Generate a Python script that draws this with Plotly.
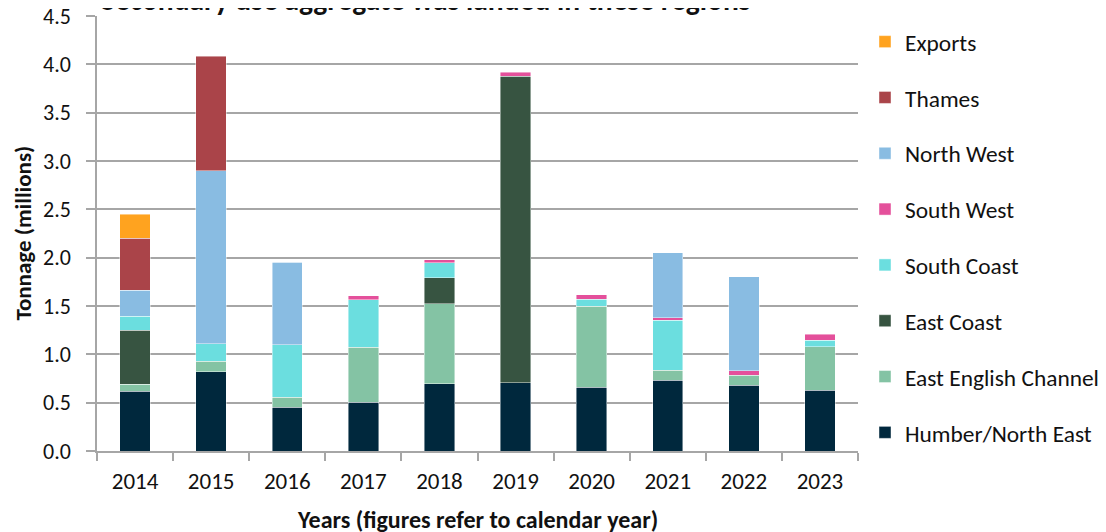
import plotly.graph_objects as go

years = ["2014", "2015", "2016", "2017", "2018", "2019", "2020", "2021", "2022", "2023"]

humber_north_east = [0.616, 0.822, 0.455, 0.502, 0.698, 0.705, 0.657, 0.733, 0.681, 0.630]
east_english_channel = [0.076, 0.104, 0.099, 0.572, 0.827, None, 0.843, 0.103, 0.103, 0.447]
east_coast = [0.558, None, None, None, 0.268, 3.172, None, None, None, None]
south_coast = [0.145, 0.182, 0.544, 0.492, 0.155, None, 0.072, 0.516, None, 0.069]
south_west = [None, None, None, 0.038, 0.031, 0.041, 0.045, 0.028, 0.045, 0.061]
north_west = [0.268, 1.791, 0.854, None, None, None, None, 0.670, 0.974, None]
thames = [0.537, 1.185, 0.008, None, None, None, None, None, None, None]
exports = [0.251, None, None, None, None, None, None, None, None, None]

series = [
    ("Humber/North East", humber_north_east, "#00283D"),
    ("East English Channel", east_english_channel, "#84C3A4"),
    ("East Coast", east_coast, "#375441"),
    ("South Coast", south_coast, "#6BDEDF"),
    ("South West", south_west, "#E4509B"),
    ("North West", north_west, "#89BCE2"),
    ("Thames", thames, "#AA4449"),
    ("Exports", exports, "#FFA31F"),
]

FONT = "Carlito, Lato, 'Open Sans', sans-serif"

# plot area in figure pixels
L, R, T, B = 89, 256, 8, 89
W, H = 1106, 532
PW, PH = W - L - R, H - T - B

fig = go.Figure()
n = len(series)
for i, (name, vals, col) in enumerate(series):
    fig.add_trace(go.Bar(
        x=years, y=vals, name=name, legendgroup=name, legendrank=n - i,
        marker=dict(color=col, line=dict(color="rgba(255,255,255,0.55)", width=0.8)),
        width=0.4,
    ))

fig.update_layout(
    width=W, height=H,
    barmode="stack",
    plot_bgcolor="white", paper_bgcolor="white",
    margin=dict(l=L, r=R, t=T, b=B, autoexpand=False),
    font=dict(family=FONT, size=22, color="#111111"),
    showlegend=True,
    legend=dict(
        traceorder="grouped", tracegroupgap=22.4,
        x=(857 - L) / PW, xanchor="left", y=0.991, yanchor="top",
        font=dict(size=23.4, color="#111111"),
        bgcolor="rgba(0,0,0,0)",
    ),
    xaxis=dict(
        type="category", showline=True, linecolor="#A6A6A6", linewidth=1.5,
        ticks="outside", tickson="boundaries", ticklen=8, tickcolor="#A6A6A6", tickwidth=1.5,
        tickfont=dict(size=23), showgrid=False, automargin=False, ticklabelstandoff=9,
    ),
    yaxis=dict(
        range=[0, 4.5], dtick=0.5, tickformat=".1f",
        showline=True, linecolor="#A6A6A6", linewidth=1.5,
        ticks="outside", ticklen=9, tickcolor="#A6A6A6", tickwidth=1.5,
        showgrid=True, gridcolor="#A6A6A6", gridwidth=1.5,
        tickfont=dict(size=22), ticklabelstandoff=11, automargin=False,
        ticklabeloverflow="allow", zeroline=False,
    ),
)

# chart title (partly above the top edge, as in the reference)
fig.add_annotation(
    text="<b>Secondary use aggregate was landed in these regions</b>",
    xref="paper", yref="paper", x=(418 - L) / PW, y=1.0,
    xanchor="center", yanchor="bottom", yshift=-4, showarrow=False,
    font=dict(size=29.5, color="#111111", family=FONT),
)
# axis titles
fig.add_annotation(
    text="<b>Tonnage (millions)</b>", textangle=-90,
    xref="paper", yref="paper", x=(14 - L) / PW, y=0.5,
    xanchor="center", yanchor="middle", showarrow=False,
    font=dict(size=23, color="#111111", family=FONT),
)
fig.add_annotation(
    text="<b>Years (figures refer to calendar year)</b>",
    xref="paper", yref="paper", x=0.5, y=(PH + T - 511) / PH,
    xanchor="center", yanchor="middle", showarrow=False,
    font=dict(size=24, color="#111111", family=FONT),
)

fig.write_html("out.html")
